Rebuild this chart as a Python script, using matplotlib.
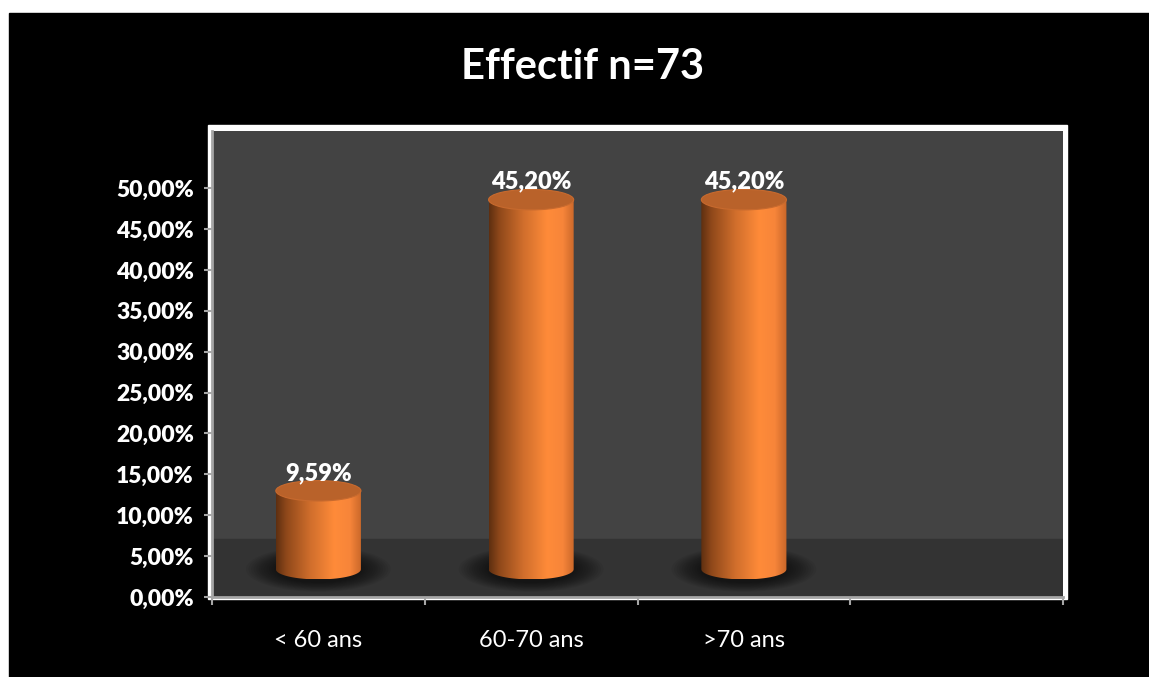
import numpy as np
import matplotlib
matplotlib.use("Agg")
import matplotlib.pyplot as plt
from matplotlib.patches import Rectangle, Ellipse, Polygon
from matplotlib.colors import LinearSegmentedColormap
from matplotlib.ticker import FuncFormatter

# data
categories = ["< 60 ans", "60-70 ans", ">70 ans"]
values = [0.0959, 0.4520, 0.4520]
n_slots = 4  # Excel left an empty 4th slot on the axis
title = "Effectif n=73"

plt.rcParams['font.family'] = ['Lato', 'DejaVu Sans']

W, H = 1149, 677
fig = plt.figure(figsize=(W / 100, H / 100), dpi=100)
fig.patch.set_facecolor('white')

# black slide background (thin white strip top/left)
fig.patches.append(Rectangle((9 / W, 0), 1 - 9 / W, (H - 13) / H,
                             transform=fig.transFigure, color='black', zorder=-2))
# white frame round the plot area
fig.patches.append(Rectangle((208 / W, (H - 599) / H), (1067 - 208) / W, (599 - 125) / H,
                             transform=fig.transFigure, color='white', zorder=-1))

ax = fig.add_axes([212 / W, (H - 597) / H, (1063 - 212) / W, (597 - 131) / H])
ax.set_facecolor('#434343')

ymax = 0.57
base = 0.034      # 3d floor offset of the cylinders
bw = 0.40         # bar width (category units)
eh = 0.025        # ellipse height (data units)

# floor
ax.axhspan(0, 0.071, color='#333333', zorder=0.5)

cmap = LinearSegmentedColormap.from_list('cyl', [
    (0.0, '#5e2f10'), (0.12, '#8f481a'), (0.4, '#d06e2c'),
    (0.68, '#ff8b39'), (0.86, '#f7853a'), (1.0, '#c86629')])
grad = np.linspace(0, 1, 256).reshape(1, -1)

for i, v in enumerate(values):
    c = i + 0.5
    # soft shadow under the cylinder
    for k in range(12):
        s = 1.7 - k * 0.06
        ax.add_patch(Ellipse((c, base), bw * s, eh * (1.3 + (s - 1) * 1.3),
                             color='black', alpha=0.06, lw=0, zorder=1))
    # body
    th = np.linspace(np.pi, 2 * np.pi, 60)
    arc = np.column_stack([c + bw / 2 * np.cos(th), base + eh / 2 * np.sin(th)])
    pts = np.vstack([[c - bw / 2, base + v], arc, [c + bw / 2, base + v]])
    body = Polygon(pts, closed=True, facecolor='none', edgecolor='none', zorder=2)
    ax.add_patch(body)
    im = ax.imshow(grad, cmap=cmap, aspect='auto', zorder=2,
                   extent=(c - bw / 2, c + bw / 2, base - eh / 2, base + v))
    im.set_clip_path(body)
    # top
    ax.add_patch(Ellipse((c, base + v), bw, eh, facecolor='#b9622a',
                         edgecolor='#c86a2e', lw=0.8, zorder=3))
    # value label
    ax.text(c, base + v + eh / 2 - 0.004, f"{v * 100:.2f}%".replace('.', ','),
            ha='center', va='bottom', color='white', fontsize=17,
            fontweight='heavy', zorder=4)

ax.set_xlim(0, n_slots)
ax.set_ylim(0, ymax)

ax.set_yticks(np.arange(0, 0.5001, 0.05))
ax.yaxis.set_major_formatter(FuncFormatter(lambda y, p: f"{y * 100:.2f}%".replace('.', ',')))
ax.tick_params(axis='y', colors='#a6a6a6', length=6, width=1.5, pad=7,
               labelcolor='white', labelsize=16.5)
for lab in ax.get_yticklabels():
    lab.set_fontweight('heavy')

ax.set_xticks(range(n_slots + 1))
ax.set_xticklabels([])
ax.set_xticks([i + 0.5 for i in range(len(categories))], minor=True)
ax.set_xticklabels(categories, minor=True)
ax.tick_params(axis='x', which='major', colors='#a6a6a6', length=6, width=1.5)
ax.tick_params(axis='x', which='minor', length=0, pad=24, labelcolor='white', labelsize=17)

for side in ['top', 'right']:
    ax.spines[side].set_visible(False)
for side in ['left', 'bottom']:
    ax.spines[side].set_color('#a6a6a6')
    ax.spines[side].set_linewidth(2)

fig.text(0.507, 1 - 67 / H, title, ha='center', va='center', color='white',
         fontsize=30, fontweight='bold')

fig.savefig('out.png', dpi=100, facecolor=fig.get_facecolor())
